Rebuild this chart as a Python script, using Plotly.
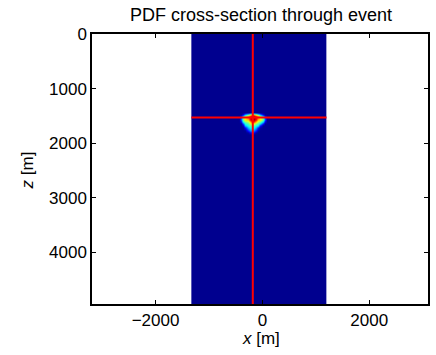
import plotly.graph_objects as go

# ---- data ----
grid_x_edges = [-1330, 1200]          # extent of the cross-section grid (m)
grid_z_edges = [0, 4950]
background_pdf = [[0.0]]

event_x = -180
event_z = 1530

blob_x = [-440, -400, -360, -320, -280, -240, -200, -160, -120, -80, -40, 0, 40, 80]
blob_z = [1440, 1480, 1520, 1560, 1600, 1640, 1680, 1720, 1760, 1800, 1840, 1880]
blob_pdf = [
    [0, 0, 0, 0, 0, 0, 0, 0, 0, 0, 0, 0, 0, 0],
    [0, 0, .1, .3, .45, .6, .75, .75, .6, .45, .3, .1, 0, 0],
    [0, .15, .4, .6, .75, .9, .98, .98, .9, .75, .6, .4, .15, 0],
    [0, .2, .5, .65, .7, .88, .97, .97, .88, .7, .65, .5, .2, 0],
    [0, .12, .4, .5, .55, .7, .85, .85, .7, .55, .5, .35, .1, 0],
    [0, 0, .2, .4, .45, .55, .65, .6, .5, .45, .35, .15, 0, 0],
    [0, 0, .05, .3, .4, .45, .5, .45, .4, .35, .15, 0, 0, 0],
    [0, 0, 0, .12, .3, .38, .4, .38, .3, .15, .03, 0, 0, 0],
    [0, 0, 0, 0, .15, .25, .3, .25, .15, .03, 0, 0, 0, 0],
    [0, 0, 0, 0, .02, .1, .14, .1, .03, 0, 0, 0, 0, 0],
    [0, 0, 0, 0, 0, 0, .02, 0, 0, 0, 0, 0, 0, 0],
    [0, 0, 0, 0, 0, 0, 0, 0, 0, 0, 0, 0, 0, 0],
]

x_ticks = [-2000, 0, 2000]
z_ticks = [0, 1000, 2000, 3000, 4000]
x_range = [-3190, 3100]
z_range = [4950, 0]

FONT = "Liberation Sans, Arial, sans-serif"
JET = [[0, "rgb(0,0,143)"], [0.125, "rgb(0,0,255)"], [0.375, "rgb(0,255,255)"],
       [0.625, "rgb(255,255,0)"], [0.875, "rgb(255,0,0)"], [1, "rgb(128,0,0)"]]

fig = go.Figure()
fig.add_trace(go.Heatmap(z=background_pdf, x=grid_x_edges, y=grid_z_edges,
                         colorscale=JET, zmin=0, zmax=1, showscale=False,
                         hoverinfo="skip"))
fig.add_trace(go.Heatmap(z=blob_pdf, x=blob_x, y=blob_z, zsmooth="best",
                         colorscale=JET, zmin=0, zmax=1, showscale=False))
# crosshair through the event
fig.add_trace(go.Scatter(x=[event_x, event_x], y=grid_z_edges, mode="lines",
                         line=dict(color="#ff0000", width=2), showlegend=False))
fig.add_trace(go.Scatter(x=grid_x_edges, y=[event_z, event_z], mode="lines",
                         line=dict(color="#ff0000", width=2), showlegend=False))

axis_common = dict(showline=True, linecolor="black", linewidth=1.5, mirror="ticks",
                   ticks="inside", ticklen=4, tickcolor="black", showgrid=False,
                   zeroline=False, tickfont=dict(family=FONT, size=17, color="black"))

fig.update_xaxes(range=x_range, tickvals=x_ticks,
                 ticktext=["\u22122000", "0", "2000"], **axis_common)
fig.update_yaxes(range=z_range, tickvals=z_ticks, **axis_common)

fig.update_layout(
    width=436, height=355,
    margin=dict(l=92, r=6, t=34, b=51),
    plot_bgcolor="white", paper_bgcolor="white",
    title=dict(text="PDF cross-section through event", x=(92 + 430) / 2 / 436,
               xanchor="center", y=1 - 15 / 355, yanchor="middle", yref="container",
               font=dict(family=FONT, size=18, color="black")),
    annotations=[
        dict(text="<i>x</i> [m]", xref="paper", yref="paper", x=(262 - 92) / 338, y=-34 / 270,
             xanchor="center", yanchor="middle", showarrow=False,
             font=dict(family=FONT, size=17, color="black")),
        dict(text="<i>z</i> [m]", xref="paper", yref="paper", x=(27 - 92) / 338, y=(304 - 170) / 270,
             xanchor="center", yanchor="middle", showarrow=False, textangle=-90,
             font=dict(family=FONT, size=17, color="black")),
    ],
)

fig.write_html("out.html")
